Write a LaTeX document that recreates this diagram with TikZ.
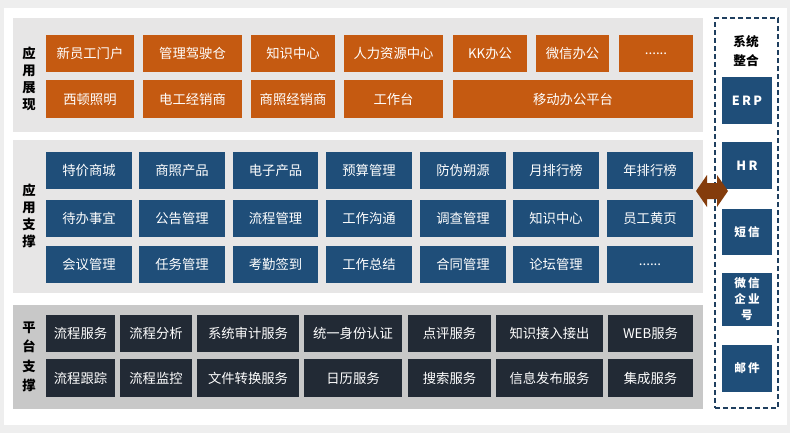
\documentclass[tikz,border=0pt]{standalone}
\usepackage{fontspec}
\newfontfamily\cjk{Noto Sans CJK SC}
\newfontfamily\cjksp[LetterSpace=18]{Noto Sans CJK SC}
\definecolor{orangeC}{HTML}{C55A11}
\definecolor{blueC}{HTML}{1F4E79}
\definecolor{darkC}{HTML}{222A35}
\definecolor{panelA}{HTML}{E7E6E6}
\definecolor{panelB}{HTML}{C8C8C8}
\definecolor{outerC}{HTML}{EEEEEE}
\definecolor{dashC}{HTML}{1F3F5F}
\definecolor{brownC}{HTML}{843C0C}
\newcommand\bx[7]{\node[#6, minimum width={(#4-#2)*0.75pt}, minimum height={(#5-#3)*0.75pt}] (#1) at ({(#2+#4)/2},{(#3+#5)/2}) {#7};}
\tikzset{
  boxbase/.style={inner sep=0pt, outer sep=0pt, text=white, font=\cjk\fontsize{10}{12}\selectfont},
  obox/.style={boxbase, fill=orangeC},
  bbox/.style={boxbase, fill=blueC},
  dbox/.style={boxbase, fill=darkC},
  sbox/.style={inner sep=0pt, outer sep=0pt, text=white, fill=blueC, align=center, font=\cjksp\bfseries\fontsize{8.7}{12}\selectfont},
  lbox/.style={sbox, font=\cjksp\bfseries\fontsize{9.5}{12}\selectfont},
  panel/.style={inner sep=0pt, outer sep=0pt},
  lab/.style={align=center, inner sep=0pt, font=\cjk\bfseries\fontsize{10}{12.9}\selectfont},
}
\begin{document}
\begin{tikzpicture}[x=0.75pt,y=-0.75pt]
\useasboundingbox (0,0) rectangle (790,433);
\fill[outerC] (0,0) rectangle (790,433);
\fill[white] (4,8) rectangle (787,425);
% panels
\bx{p1}{13}{18}{703}{132}{panel, fill=panelA}{}
\bx{p2}{13}{140}{703}{293}{panel, fill=panelA}{}
\bx{p3}{13}{305}{703}{409}{panel, fill=panelB}{}
% labels
\node[lab] (l1) at (29,79) {应\\用\\展\\现};
\node[lab] (l2) at (29,216) {应\\用\\支\\撑};
\node[lab, font=\cjk\bfseries\fontsize{10}{14.6}\selectfont] (l3) at (29,357) {平\\台\\支\\撑};
% panel 1
\bx{a1}{46}{35}{134}{72}{obox}{新员工门户}
\bx{a2}{143}{35}{242}{72}{obox}{管理驾驶仓}
\bx{a3}{251}{35}{335}{72}{obox}{知识中心}
\bx{a4}{344}{35}{443}{72}{obox}{人力资源中心}
\bx{a5}{453}{35}{527}{72}{obox}{KK办公}
\bx{a6}{536}{35}{609}{72}{obox}{微信办公}
\bx{a7}{619}{35}{693}{72}{obox}{......}
\bx{a8}{46}{80}{134}{118}{obox}{西顿照明}
\bx{a9}{143}{80}{242}{118}{obox}{电工经销商}
\bx{a10}{251}{80}{335}{118}{obox}{商照经销商}
\bx{a11}{344}{80}{443}{118}{obox}{工作台}
\bx{a12}{453}{80}{693}{118}{obox}{移动办公平台}
% panel 2
\bx{b1}{46}{152}{132}{189}{bbox}{特价商城}
\bx{b2}{139}{152}{225}{189}{bbox}{商照产品}
\bx{b3}{233}{152}{318}{189}{bbox}{电子产品}
\bx{b4}{326}{152}{412}{189}{bbox}{预算管理}
\bx{b5}{420}{152}{506}{189}{bbox}{防伪朔源}
\bx{b6}{513}{152}{599}{189}{bbox}{月排行榜}
\bx{b7}{607}{152}{693}{189}{bbox}{年排行榜}
\bx{b8}{46}{200}{132}{237}{bbox}{待办事宜}
\bx{b9}{139}{200}{225}{237}{bbox}{公告管理}
\bx{b10}{233}{200}{318}{237}{bbox}{流程管理}
\bx{b11}{326}{200}{412}{237}{bbox}{工作沟通}
\bx{b12}{420}{200}{506}{237}{bbox}{调查管理}
\bx{b13}{513}{200}{599}{237}{bbox}{知识中心}
\bx{b14}{607}{200}{693}{237}{bbox}{员工黄页}
\bx{b15}{46}{246}{132}{283}{bbox}{会议管理}
\bx{b16}{139}{246}{225}{283}{bbox}{任务管理}
\bx{b17}{233}{246}{318}{283}{bbox}{考勤签到}
\bx{b18}{326}{246}{412}{283}{bbox}{工作总结}
\bx{b19}{420}{246}{506}{283}{bbox}{合同管理}
\bx{b20}{513}{246}{599}{283}{bbox}{论坛管理}
\bx{b21}{607}{246}{693}{283}{bbox}{......}
% panel 3
\bx{c1}{46}{315}{115}{352}{dbox}{流程服务}
\bx{c2}{120}{315}{192}{352}{dbox}{流程分析}
\bx{c3}{197}{315}{299}{352}{dbox}{系统审计服务}
\bx{c4}{304}{315}{402}{352}{dbox}{统一身份认证}
\bx{c5}{408}{315}{491}{352}{dbox}{点评服务}
\bx{c6}{496}{315}{603}{352}{dbox}{知识接入接出}
\bx{c7}{608}{315}{693}{352}{dbox}{WEB服务}
\bx{c8}{46}{359}{115}{397}{dbox}{流程跟踪}
\bx{c9}{120}{359}{192}{397}{dbox}{流程监控}
\bx{c10}{197}{359}{299}{397}{dbox}{文件转换服务}
\bx{c11}{304}{359}{402}{397}{dbox}{日历服务}
\bx{c12}{408}{359}{491}{397}{dbox}{搜索服务}
\bx{c13}{496}{359}{603}{397}{dbox}{信息发布服务}
\bx{c14}{608}{359}{693}{397}{dbox}{集成服务}
% system integration
\bx{sys}{715}{18}{778}{408}{panel, draw=dashC, line width=1.5pt, dash pattern=on 4pt off 2pt}{}
\node[lab, font=\cjk\bfseries\fontsize{9.5}{14.2}\selectfont] (st) at (746,51) {系统\\整合};
\bx{s1}{722}{77}{772}{124}{lbox}{ERP}
\bx{s2}{722}{142}{772}{189}{lbox}{HR}
\bx{s3}{722}{209}{772}{255}{sbox}{短信}
\bx{s4}{722}{273}{772}{326}{sbox}{微信\\企业\\号}
\bx{s5}{722}{345}{772}{392}{sbox}{邮件}
% double arrow
\fill[brownC] (696,191) -- (707,175) -- (707,183) -- (717,183) -- (717,175) -- (728,191) -- (717,207) -- (717,199) -- (707,199) -- (707,207) -- cycle;
\end{tikzpicture}
\end{document}
